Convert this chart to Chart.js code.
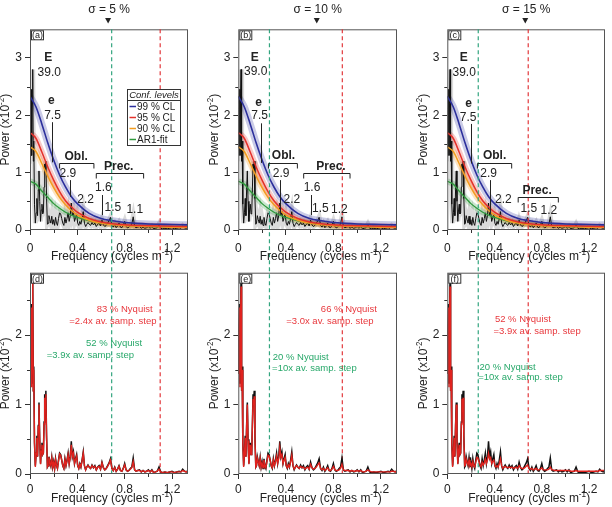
<!DOCTYPE html>
<html>
<head>
<meta charset="utf-8">
<script src="https://cdn.jsdelivr.net/npm/chart.js@4.4.1/dist/chart.umd.min.js"></script>
<style>
  html, body { margin: 0; padding: 0; background: #fff; }
  #wrap { position: relative; width: 612px; height: 507px; }
  #wrap canvas { position: absolute; left: 0; top: 0; }
</style>
</head>
<body>
<div id="wrap"></div>
<script>
const FONT = '"Liberation Sans", Arial, sans-serif';

// --- Spectrum (cycles/m vs power x1e-2) ---
const FREQ = [
    0, 0.005, 0.010, 0.014, 0.018, 0.023, 0.028, 0.032, 0.038, 0.045,
    0.052, 0.058, 0.064, 0.070, 0.076, 0.082, 0.089, 0.095, 0.101, 0.107,
    0.113, 0.119, 0.124, 0.129, 0.134, 0.140, 0.147, 0.153, 0.160, 0.168,
    0.176, 0.184, 0.192, 0.200, 0.208, 0.216, 0.224, 0.232, 0.241, 0.250,
    0.259, 0.268, 0.277, 0.286, 0.295, 0.304, 0.313, 0.322, 0.331, 0.340,
    0.349, 0.358, 0.367, 0.376, 0.385, 0.394, 0.403, 0.412, 0.421, 0.430,
    0.440, 0.450, 0.460, 0.470, 0.480, 0.490, 0.500, 0.512, 0.524, 0.536,
    0.548, 0.560, 0.572, 0.584, 0.596, 0.608, 0.620, 0.632, 0.644, 0.656,
    0.668, 0.680, 0.692, 0.704, 0.716, 0.728, 0.740, 0.752, 0.764, 0.776,
    0.788, 0.800, 0.812, 0.824, 0.836, 0.848, 0.860, 0.872, 0.884, 0.896,
    0.910, 0.925, 0.940, 0.955, 0.970, 0.985, 1.000, 1.015, 1.030, 1.045,
    1.060, 1.075, 1.090, 1.105, 1.120, 1.140, 1.160, 1.180, 1.200, 1.220,
    1.240, 1.260, 1.275, 1.290, 1.305, 1.320, 1.335
];
const POWER = [
    1.45, 2.10, 2.45, 1.30, 2.20, 2.80, 1.20, 1.55, 0.45, 0.12,
    0.30, 0.55, 0.25, 0.70, 1.03, 0.50, 0.15, 0.35, 0.45, 0.28,
    0.30, 0.75, 1.15, 1.05, 1.20, 0.55, 0.10, 0.12, 0.25, 0.18,
    0.12, 0.24, 0.10, 0.18, 0.08, 0.22, 0.12, 0.08, 0.20, 0.30,
    0.28, 0.20, 0.12, 0.08, 0.22, 0.12, 0.20, 0.30, 0.15, 0.25,
    0.47, 0.25, 0.32, 0.15, 0.22, 0.28, 0.12, 0.08, 0.15, 0.10,
    0.20, 0.32, 0.12, 0.06, 0.10, 0.13, 0.10, 0.08, 0.13, 0.09,
    0.12, 0.06, 0.10, 0.12, 0.07, 0.17, 0.09, 0.06, 0.08, 0.12,
    0.16, 0.22, 0.08, 0.05, 0.10, 0.04, 0.07, 0.12, 0.05, 0.04,
    0.08, 0.15, 0.06, 0.04, 0.05, 0.08, 0.10, 0.23, 0.06, 0.04,
    0.05, 0.06, 0.03, 0.05, 0.03, 0.04, 0.06, 0.03, 0.06, 0.02,
    0.03, 0.04, 0.10, 0.03, 0.02, 0.03, 0.02, 0.03, 0.04, 0.02,
    0.03, 0.04, 0.03, 0.07, 0.04, 0.03, 0.05
];
const RED_D = [
    1.45, 2.05, 2.40, 1.25, 2.15, 2.75, 1.20, 1.50, 0.45, 0.10,
    0.30, 0.52, 0.25, 0.68, 1.00, 0.48, 0.14, 0.33, 0.42, 0.28,
    0.30, 0.72, 1.10, 1.02, 1.15, 0.52, 0.10, 0.12, 0.24, 0.17,
    0.12, 0.23, 0.10, 0.17, 0.08, 0.21, 0.12, 0.08, 0.19, 0.29,
    0.27, 0.20, 0.12, 0.08, 0.21, 0.12, 0.19, 0.28, 0.15, 0.24,
    0.42, 0.25, 0.30, 0.15, 0.21, 0.26, 0.12, 0.08, 0.14, 0.10,
    0.19, 0.30, 0.12, 0.06, 0.10, 0.12, 0.10, 0.08, 0.12, 0.09,
    0.11, 0.06, 0.10, 0.11, 0.07, 0.16, 0.09, 0.06, 0.08, 0.11,
    0.15, 0.20, 0.08, 0.05, 0.09, 0.04, 0.07, 0.11, 0.05, 0.04,
    0.08, 0.13, 0.06, 0.04, 0.05, 0.07, 0.09, 0.18, 0.06, 0.04,
    0.05, 0.05, 0.03, 0.05, 0.03, 0.04, 0.05, 0.03, 0.05, 0.02,
    0.03, 0.04, 0.07, 0.03, 0.02, 0.03, 0.02, 0.03, 0.03, 0.02,
    0.03, 0.03, 0.03, 0.05, 0.04, 0.03, 0.04
];
const RED_E = [
    1.45, 2.05, 2.40, 1.25, 2.15, 2.70, 1.20, 1.50, 0.45, 0.10,
    0.30, 0.52, 0.25, 0.68, 1.00, 0.48, 0.14, 0.33, 0.42, 0.28,
    0.30, 0.72, 1.08, 1.00, 1.12, 0.52, 0.10, 0.12, 0.23, 0.17,
    0.12, 0.22, 0.10, 0.16, 0.09, 0.20, 0.12, 0.09, 0.18, 0.27,
    0.26, 0.20, 0.12, 0.09, 0.20, 0.12, 0.18, 0.26, 0.15, 0.22,
    0.38, 0.24, 0.28, 0.15, 0.20, 0.24, 0.12, 0.09, 0.13, 0.10,
    0.17, 0.27, 0.12, 0.07, 0.10, 0.12, 0.10, 0.08, 0.11, 0.09,
    0.10, 0.07, 0.09, 0.10, 0.07, 0.14, 0.09, 0.07, 0.08, 0.10,
    0.13, 0.16, 0.08, 0.06, 0.08, 0.05, 0.07, 0.09, 0.05, 0.05,
    0.07, 0.11, 0.06, 0.05, 0.05, 0.06, 0.08, 0.14, 0.06, 0.05,
    0.05, 0.05, 0.04, 0.05, 0.04, 0.04, 0.05, 0.04, 0.05, 0.03,
    0.03, 0.04, 0.06, 0.04, 0.03, 0.03, 0.03, 0.03, 0.03, 0.03,
    0.03, 0.03, 0.03, 0.04, 0.04, 0.03, 0.04
];
const RED_F = [
    1.45, 2.05, 2.40, 1.25, 2.15, 2.70, 1.20, 1.50, 0.45, 0.10,
    0.30, 0.52, 0.25, 0.68, 1.00, 0.48, 0.14, 0.33, 0.42, 0.28,
    0.30, 0.72, 1.08, 1.00, 1.10, 0.52, 0.12, 0.13, 0.22, 0.17,
    0.13, 0.20, 0.12, 0.15, 0.10, 0.18, 0.12, 0.10, 0.17, 0.24,
    0.23, 0.18, 0.13, 0.10, 0.17, 0.13, 0.16, 0.22, 0.15, 0.20,
    0.30, 0.22, 0.24, 0.15, 0.18, 0.20, 0.12, 0.10, 0.12, 0.10,
    0.15, 0.22, 0.12, 0.08, 0.10, 0.11, 0.10, 0.09, 0.10, 0.09,
    0.10, 0.08, 0.09, 0.10, 0.08, 0.12, 0.09, 0.08, 0.08, 0.09,
    0.11, 0.13, 0.08, 0.07, 0.08, 0.06, 0.07, 0.08, 0.06, 0.06,
    0.07, 0.09, 0.06, 0.06, 0.06, 0.06, 0.07, 0.10, 0.06, 0.06,
    0.05, 0.05, 0.05, 0.05, 0.05, 0.05, 0.05, 0.05, 0.05, 0.04,
    0.04, 0.04, 0.05, 0.04, 0.04, 0.04, 0.04, 0.04, 0.04, 0.04,
    0.04, 0.04, 0.04, 0.05, 0.05, 0.05, 0.05
];

// --- Confidence levels / AR1 fit ---
const CL_FREQ = [0, 0.05, 0.10, 0.15, 0.20, 0.25, 0.30, 0.35, 0.40, 0.50, 0.60, 0.70, 0.80, 0.90, 1.00, 1.10, 1.20, 1.335];
const CL99 = [2.33, 2.15, 1.85, 1.52, 1.22, 0.96, 0.75, 0.58, 0.46, 0.29, 0.20, 0.16, 0.13, 0.115, 0.105, 0.10, 0.095, 0.09];
const CL95 = [1.70, 1.60, 1.36, 1.10, 0.87, 0.67, 0.51, 0.40, 0.31, 0.20, 0.14, 0.11, 0.09, 0.08, 0.075, 0.07, 0.065, 0.06];
const CL90 = [1.45, 1.37, 1.16, 0.94, 0.74, 0.57, 0.44, 0.34, 0.26, 0.17, 0.12, 0.09, 0.075, 0.065, 0.06, 0.055, 0.05, 0.05];
const AR1 = [0.85, 0.80, 0.68, 0.57, 0.46, 0.38, 0.31, 0.26, 0.22, 0.16, 0.12, 0.10, 0.08, 0.07, 0.06, 0.055, 0.05, 0.045];
const CL_LABELS = ['99 % CL', '95 % CL', '90 % CL', 'AR1-fit'];

// --- Axes ---
const X_MAX = 1.335;            // Nyquist
const X_TICKS = [0, 0.4, 0.8, 1.2];
const X_MINOR = [0.2, 0.6, 1.0];
const Y_TICKS_TOP = [0, 1, 2, 3];
const Y_TICKS_BOT = [0, 1, 2];
const Y_MINOR = [0.5, 1.5, 2.5];

// --- Cut-off frequencies and labels ---
const SIGMA_LABELS = ['\u03c3 = 5 %', '\u03c3 = 10 %', '\u03c3 = 15 %'];
const SIGMA_MARK = 0.66;
const GREEN_NYQ = [0.69, 0.262, 0.262];
const RED_NYQ = [1.10, 0.875, 0.685];

const C = {
    blue: '#2b2f9c', red: '#e4312b', orange: '#f39c1f', green: '#2f9a3c',
    dashGreen: '#33a57f', dashRed: '#e2393c', txtRed: '#e8383d', txtGreen: '#28a86a',
};

// --- Layout (pixels) ---
const COLS = [{ L: 30, R: 188 }, { L: 238.3, R: 397 }, { L: 447.3, R: 605 }];
const ROWS = [{ T: 29.3, B: 230 }, { T: 272.7, B: 474 }];

const pts = (xs, ys) => xs.map((x, i) => ({ x, y: ys[i] }));

function rich(ctx, segs, x, y, size, align) {
    const ws = segs.map(s => {
        ctx.font = (s[1] ? size * 0.68 : size) + 'px ' + FONT;
        return ctx.measureText(s[0]).width;
    });
    const total = ws.reduce((a, b) => a + b, 0);
    let cx = align === 'center' ? x - total / 2 : x;
    ctx.textAlign = 'left';
    ctx.textBaseline = 'middle';
    segs.forEach((s, i) => {
        ctx.font = (s[1] ? size * 0.68 : size) + 'px ' + FONT;
        ctx.fillText(s[0], cx, s[1] ? y - size * 0.33 : y);
        cx += ws[i];
    });
}

function decor(p) {
    return {
        id: 'decor',
        afterDraw(chart) {
            const { ctx, chartArea: a, scales: { x, y } } = chart;
            ctx.save();
            // minor ticks
            ctx.strokeStyle = '#333';
            ctx.lineWidth = 1;
            ctx.beginPath();
            X_MINOR.forEach(v => {
                const px = Math.round(x.getPixelForValue(v)) + 0.5;
                ctx.moveTo(px, a.bottom); ctx.lineTo(px, a.bottom + 3);
            });
            Y_MINOR.forEach(v => {
                if (v > y.max) return;
                const py = Math.round(y.getPixelForValue(v)) + 0.5;
                ctx.moveTo(a.left, py); ctx.lineTo(a.left - 3, py);
            });
            ctx.stroke();
            // frame
            ctx.strokeStyle = '#555';
            ctx.strokeRect(a.left + 0.5, a.top + 0.5, a.right - a.left - 1, a.bottom - a.top - 1);

            // cut-off lines (top panels draw them through both rows)
            if (p.top) {
                ctx.setLineDash([4, 3]);
                ctx.lineWidth = 1.2;
                [[GREEN_NYQ[p.col], C.dashGreen], [RED_NYQ[p.col], C.dashRed]].forEach(([v, col]) => {
                    const px = x.getPixelForValue(v);
                    ctx.strokeStyle = col;
                    ctx.beginPath(); ctx.moveTo(px, a.top); ctx.lineTo(px, ROWS[1].B); ctx.stroke();
                });
                ctx.setLineDash([]);
                // sigma label + marker
                const sx = x.getPixelForValue(SIGMA_MARK);
                ctx.fillStyle = '#222';
                ctx.font = '12px ' + FONT;
                ctx.textAlign = 'center'; ctx.textBaseline = 'middle';
                ctx.fillText(SIGMA_LABELS[p.col], sx + 1, 10);
                ctx.beginPath(); ctx.moveTo(sx - 3, 18); ctx.lineTo(sx + 3, 18); ctx.lineTo(sx, 23.5); ctx.closePath(); ctx.fill();
            }

            // panel letter
            ctx.lineWidth = 1;
            ctx.strokeStyle = '#333';
            ctx.fillStyle = '#fff';
            ctx.fillRect(a.left + 1.5, a.top + 1.5, 12, 9);
            ctx.strokeRect(a.left + 1.5, a.top + 1.5, 12, 9);
            ctx.fillStyle = '#222';
            ctx.font = '9px ' + FONT;
            ctx.textAlign = 'center'; ctx.textBaseline = 'middle';
            ctx.fillText(p.label, a.left + 7.5, a.top + 6.5);

            // axis titles
            const cx = (a.left + a.right) / 2 + 3;
            rich(ctx, [['Frequency (cycles m'], ['-1', true], [')']], cx, a.bottom + (p.top ? 27 : 25), 12, 'center');
            ctx.save();
            ctx.translate(a.left - 24, (a.top + a.bottom) / 2);
            ctx.rotate(-Math.PI / 2);
            rich(ctx, [['Power (x10'], ['-2', true], [')']], 0, 0, 12, 'center');
            ctx.restore();

            // annotations
            (p.texts || []).forEach(t => {
                ctx.fillStyle = t.c || '#222';
                ctx.font = (t.b ? 'bold ' : '') + (t.s || 12) + 'px ' + FONT;
                ctx.textAlign = 'center'; ctx.textBaseline = 'middle';
                ctx.fillText(t.t, x.getPixelForValue(t.x), y.getPixelForValue(t.y));
            });
            ctx.strokeStyle = '#222';
            ctx.lineWidth = 1;
            (p.lines || []).forEach(l => {
                ctx.beginPath();
                ctx.moveTo(Math.round(x.getPixelForValue(l[0])) + 0.5, y.getPixelForValue(l[1]));
                ctx.lineTo(Math.round(x.getPixelForValue(l[0])) + 0.5, y.getPixelForValue(l[2]));
                ctx.stroke();
            });
            (p.brackets || []).forEach(b => {
                const x0 = x.getPixelForValue(b[0]), x1 = x.getPixelForValue(b[1]);
                const py = Math.round(y.getPixelForValue(b[2])) + 0.5;
                ctx.beginPath();
                ctx.moveTo(x0, py + 5); ctx.lineTo(x0, py); ctx.lineTo(x1, py); ctx.lineTo(x1, py + 5);
                ctx.stroke();
            });

            // legend (panel a)
            if (p.legend) {
                const lx = 127.5, ly = 89.5, lw = 53, lh = 56;
                ctx.fillStyle = '#fff';
                ctx.fillRect(lx, ly, lw, lh);
                ctx.strokeStyle = '#333';
                ctx.strokeRect(lx, ly, lw, lh);
                ctx.beginPath(); ctx.moveTo(lx, ly + 11); ctx.lineTo(lx + lw, ly + 11); ctx.stroke();
                ctx.fillStyle = '#222';
                ctx.font = 'italic 9.5px ' + FONT;
                ctx.textAlign = 'center'; ctx.textBaseline = 'middle';
                ctx.fillText('Conf. levels', lx + lw / 2, ly + 6);
                const cols = [C.blue, C.red, C.orange, C.green];
                ctx.font = '10px ' + FONT;
                ctx.textAlign = 'left';
                CL_LABELS.forEach((lab, i) => {
                    const iy = ly + 17 + i * 11;
                    ctx.strokeStyle = cols[i]; ctx.lineWidth = 1.5;
                    ctx.beginPath(); ctx.moveTo(lx + 2, iy); ctx.lineTo(lx + 8.5, iy); ctx.stroke();
                    ctx.fillText(lab, lx + 9.5, iy + 0.5);
                });
            }
            ctx.restore();
        }
    };
}

function line(data, color, width, order, extra) {
    return Object.assign({ data, borderColor: color, borderWidth: width, pointRadius: 0, fill: false, order, tension: 0 }, extra || {});
}
const smooth = { cubicInterpolationMode: 'monotone' };

function topDatasets() {
    return [
        line(pts(FREQ, POWER), 'rgba(165,165,165,0.4)', 5, 12),
        line(pts(CL_FREQ, AR1), 'rgba(47,154,60,0.25)', 6, 11, smooth),
        line(pts(CL_FREQ, CL90), 'rgba(243,156,31,0.28)', 6, 10, smooth),
        line(pts(CL_FREQ, CL95), 'rgba(228,49,43,0.25)', 6, 9, smooth),
        line(pts(CL_FREQ, CL99), 'rgba(43,47,156,0.25)', 7, 8, smooth),
        line(pts(FREQ, POWER), '#111', 1, 5),
        line(pts(CL_FREQ, AR1), C.green, 1.3, 4, smooth),
        line(pts(CL_FREQ, CL90), C.orange, 1.5, 3, smooth),
        line(pts(CL_FREQ, CL95), C.red, 1.5, 2, smooth),
        line(pts(CL_FREQ, CL99), C.blue, 1.6, 1, smooth),
    ];
}

function bottomDatasets(red) {
    return [
        line(pts(FREQ, POWER), '#111', 1.5, 2),
        line(pts(FREQ, red), '#e0221e', 1.4, 1),
    ];
}

const PANELS = [
    { label: '(a)', top: true, col: 0, legend: true, datasets: topDatasets(),
      texts: [
        { t: 'E', x: 0.155, y: 3.0, b: true }, { t: '39.0', x: 0.163, y: 2.75 },
        { t: 'e', x: 0.18, y: 2.25, b: true }, { t: '7.5', x: 0.19, y: 2.0 },
        { t: 'Obl.', x: 0.39, y: 1.27, b: true }, { t: '2.9', x: 0.32, y: 0.98 }, { t: '2.2', x: 0.47, y: 0.52 },
        { t: 'Prec.', x: 0.75, y: 1.1, b: true }, { t: '1.6', x: 0.62, y: 0.73 },
        { t: '1.5', x: 0.70, y: 0.39 }, { t: '1.1', x: 0.885, y: 0.36 }],
      lines: [[0.19, 1.88, 1.18], [0.34, 0.87, 0.58], [0.61, 0.61, 0.26]],
      brackets: [[0.25, 0.54, 1.16], [0.56, 0.96, 0.99]] },
    { label: '(b)', top: true, col: 1, datasets: topDatasets(),
      texts: [
        { t: 'E', x: 0.138, y: 3.0, b: true }, { t: '39.0', x: 0.146, y: 2.76 },
        { t: 'e', x: 0.17, y: 2.22, b: true }, { t: '7.5', x: 0.18, y: 2.0 },
        { t: 'Obl.', x: 0.38, y: 1.3, b: true }, { t: '2.9', x: 0.36, y: 0.98 }, { t: '2.2', x: 0.45, y: 0.52 },
        { t: 'Prec.', x: 0.78, y: 1.1, b: true }, { t: '1.6', x: 0.62, y: 0.73 },
        { t: '1.5', x: 0.69, y: 0.38 }, { t: '1.2', x: 0.85, y: 0.36 }],
      lines: [[0.193, 1.86, 1.17], [0.35, 0.87, 0.29], [0.61, 0.61, 0.26]],
      brackets: [[0.254, 0.497, 1.17], [0.55, 0.94, 0.99]] },
    { label: '(c)', top: true, col: 2, datasets: topDatasets(),
      texts: [
        { t: 'E', x: 0.14, y: 3.0, b: true }, { t: '39.0', x: 0.143, y: 2.75 },
        { t: 'e', x: 0.18, y: 2.2, b: true }, { t: '7.5', x: 0.176, y: 1.95 },
        { t: 'Obl.', x: 0.4, y: 1.3, b: true }, { t: '2.9', x: 0.35, y: 0.98 }, { t: '2.2', x: 0.475, y: 0.52 },
        { t: 'Prec.', x: 0.76, y: 0.68, b: true },
        { t: '1.5', x: 0.69, y: 0.38 }, { t: '1.2', x: 0.86, y: 0.34 }],
      lines: [[0.2, 1.85, 1.16], [0.36, 0.87, 0.29]],
      brackets: [[0.255, 0.545, 1.17], [0.6, 0.94, 0.57]] },
    { label: '(d)', top: false, col: 0, datasets: bottomDatasets(RED_D),
      texts: [
        { t: '83 % Nyquist', x: 0.80, y: 2.37, c: C.txtRed, s: 9.5 },
        { t: '=2.4x av. samp. step', x: 0.70, y: 2.2, c: C.txtRed, s: 9.5 },
        { t: '52 % Nyquist', x: 0.71, y: 1.88, c: C.txtGreen, s: 9.5 },
        { t: '=3.9x av. samp. step', x: 0.51, y: 1.71, c: C.txtGreen, s: 9.5 }] },
    { label: '(e)', top: false, col: 1, datasets: bottomDatasets(RED_E),
      texts: [
        { t: '66 % Nyquist', x: 0.93, y: 2.37, c: C.txtRed, s: 9.5 },
        { t: '=3.0x av. samp. step', x: 0.77, y: 2.2, c: C.txtRed, s: 9.5 },
        { t: '20 % Nyquist', x: 0.525, y: 1.68, c: C.txtGreen, s: 9.5 },
        { t: '=10x av. samp. step', x: 0.64, y: 1.52, c: C.txtGreen, s: 9.5 }] },
    { label: '(f)', top: false, col: 2, datasets: bottomDatasets(RED_F),
      texts: [
        { t: '52 % Nyquist', x: 0.64, y: 2.23, c: C.txtRed, s: 9.5 },
        { t: '=3.9x av. samp. step', x: 0.76, y: 2.06, c: C.txtRed, s: 9.5 },
        { t: '20 % Nyquist', x: 0.51, y: 1.54, c: C.txtGreen, s: 9.5 },
        { t: '=10x av. samp. step', x: 0.62, y: 1.39, c: C.txtGreen, s: 9.5 }] },
];

const tickFont = { family: FONT, size: 12 };

PANELS.forEach(p => {
    const col = COLS[p.col], row = ROWS[p.top ? 0 : 1];
    const canvas = document.createElement('canvas');
    canvas.width = 612; canvas.height = 507;
    document.getElementById('wrap').appendChild(canvas);
    const yTicks = p.top ? Y_TICKS_TOP : Y_TICKS_BOT;

    new Chart(canvas, {
        type: 'line',
        data: { datasets: p.datasets },
        options: {
            responsive: false,
            animation: false,
            layout: { padding: { left: col.L - 30, right: 612 - col.R, top: row.T, bottom: 507 - row.B - 30 } },
            plugins: { legend: { display: false }, tooltip: { enabled: false } },
            scales: {
                x: {
                    type: 'linear', min: 0, max: X_MAX,
                    afterBuildTicks: s => { s.ticks = X_TICKS.map(v => ({ value: v })); },
                    afterFit: s => { s.height = 30; },
                    ticks: { font: tickFont, color: '#222', padding: p.top ? 6 : 3, maxRotation: 0,
                             callback: v => v === 0 ? '0' : v.toFixed(1) },
                    grid: { drawOnChartArea: false, drawTicks: true, tickLength: 5, color: '#333' },
                    border: { display: false },
                },
                y: {
                    type: 'linear', min: 0, max: p.top ? 3.5 : 2.9,
                    afterBuildTicks: s => { s.ticks = yTicks.map(v => ({ value: v })); },
                    afterFit: s => { s.width = 30; },
                    ticks: { font: tickFont, color: '#222', padding: 3, callback: v => String(v) },
                    grid: { drawOnChartArea: false, drawTicks: true, tickLength: 5, color: '#333' },
                    border: { display: false },
                },
            },
        },
        plugins: [decor(p)],
    });
});
</script>
</body>
</html>
